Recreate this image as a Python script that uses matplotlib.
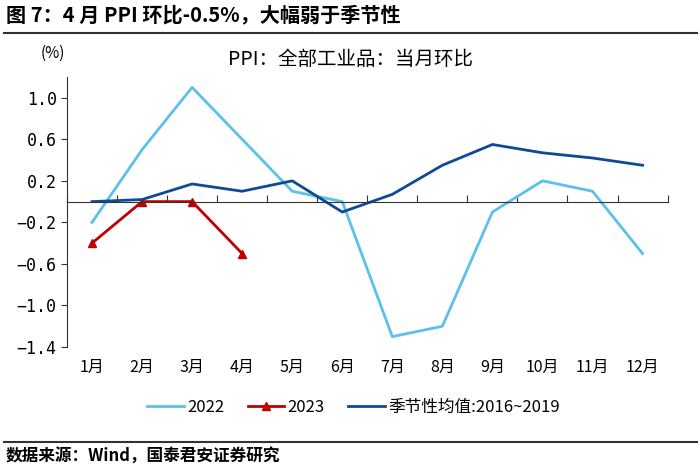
import numpy as np
import matplotlib
matplotlib.use("Agg")
import matplotlib.pyplot as plt
from matplotlib.lines import Line2D
import matplotlib.transforms as mtransforms

plt.rcParams['font.family'] = ['Noto Sans CJK SC', 'DejaVu Sans']
plt.rcParams['axes.unicode_minus'] = False

months = ["1月", "2月", "3月", "4月", "5月", "6月", "7月", "8月", "9月", "10月", "11月", "12月"]
ppi_2022 = [-0.2, 0.5, 1.1, 0.6, 0.1, 0.0, -1.3, -1.2, -0.1, 0.2, 0.1, -0.5]
ppi_2023 = [-0.4, 0.0, 0.0, -0.5]
seasonal = [0.0, 0.02, 0.17, 0.1, 0.2, -0.1, 0.07, 0.35, 0.55, 0.47, 0.42, 0.35]
yticks = [1.0, 0.6, 0.2, -0.2, -0.6, -1.0, -1.4]

c22 = "#5BC0EB"
c23 = "#C00000"
cseas = "#0E4A97"

fig = plt.figure(figsize=(7, 4.68), dpi=100)
ax = fig.add_axes([0.0957, 0.2585, 0.858, 0.577])

x = np.arange(1, 13)
ax.plot(x, ppi_2022, color=c22, lw=2.0, label="2022")
ax.plot(x[:len(ppi_2023)], ppi_2023, color=c23, lw=2.0, marker="^", ms=6, label="2023")
ax.plot(x, seasonal, color=cseas, lw=2.0, label="季节性均值:2016~2019")

ax.set_xlim(0.5, 12.5)
ax.set_ylim(-1.4, 1.2)
ax.set_yticks(yticks)
ax.set_yticklabels([f"{v:.1f}".replace("-", "−") for v in yticks],
                   fontsize=12, family="DejaVu Sans Mono")

# x axis drawn at zero with ticks at category boundaries
ax.spines["top"].set_visible(False)
ax.spines["right"].set_visible(False)
ax.spines["bottom"].set_position(("data", 0))
ax.spines["bottom"].set_color("#333333")
ax.spines["left"].set_color("#333333")
ax.set_xticks(np.arange(0.5, 13, 1))
ax.set_xticklabels([])
ax.tick_params(axis="x", direction="in", length=5, color="#333333")
ax.tick_params(axis="y", direction="out", length=4, color="#333333")

trans = mtransforms.blended_transform_factory(ax.transData, ax.transAxes)
for xi, m in zip(x, months):
    ax.text(xi, -0.075, m, transform=trans, ha="center", va="center", fontsize=11.5)

fig.text(0.5, 0.872, "PPI：全部工业品：当月环比", ha="center", va="center", fontsize=14)
fig.text(0.075, 0.885, "(%)", ha="center", va="center", fontsize=11)

handles = [Line2D([], [], color=c22, lw=2.0),
           Line2D([], [], color=c23, lw=2.0, marker="^", ms=6),
           Line2D([], [], color=cseas, lw=2.0)]
fig.legend(handles, ["2022", "2023", "季节性均值:2016~2019"], loc="center",
           bbox_to_anchor=(0.505, 0.13), ncol=3, frameon=False, fontsize=12,
           handlelength=2.2, handletextpad=0.2, columnspacing=1.4)

# header / footer
fig.text(0.008, 0.968, "图 7：4 月 PPI 环比-0.5%，大幅弱于季节性", fontsize=14.5,
         fontweight="bold", ha="left", va="center")
fig.add_artist(Line2D([0.005, 0.995], [0.93, 0.93], color="#333333", lw=1.5))
fig.add_artist(Line2D([0.005, 0.995], [0.055, 0.055], color="#333333", lw=1.5))
fig.text(0.008, 0.025, "数据来源：Wind，国泰君安证券研究", fontsize=12,
         fontweight="bold", ha="left", va="center")

fig.savefig("out.png", dpi=100)
